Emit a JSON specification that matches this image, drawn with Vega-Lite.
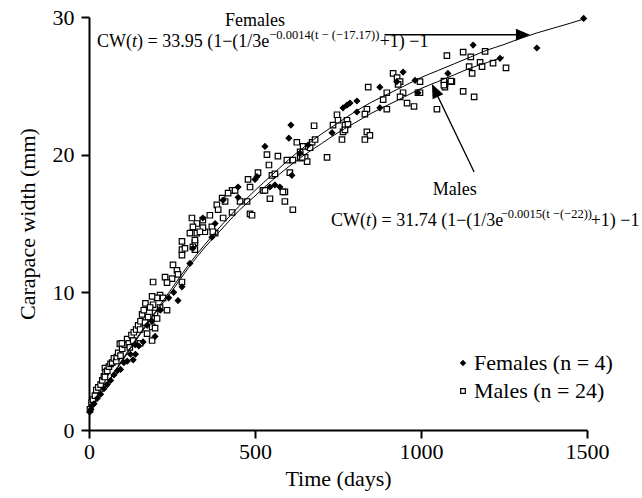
{
  "$schema": "https://vega.github.io/schema/vega-lite/v6.json",
  "width": 498,
  "height": 413,
  "autosize": {"type": "none"},
  "padding": {"left": 89, "top": 17, "right": 55, "bottom": 68},
  "background": "white",
  "datasets": {
    "pts": [
      {"t":3,"cw":1.5,"s":"M"},{"t":8,"cw":2.0,"s":"M"},{"t":12,"cw":2.2,"s":"M"},{"t":18,"cw":2.5,"s":"M"},{"t":22,"cw":2.9,"s":"M"},{"t":28,"cw":3.1,"s":"M"},{"t":35,"cw":3.3,"s":"M"},{"t":40,"cw":3.6,"s":"M"},{"t":45,"cw":3.9,"s":"M"},{"t":48,"cw":4.5,"s":"M"},{"t":50,"cw":4.2,"s":"M"},{"t":48,"cw":3.85,"s":"M"},{"t":55,"cw":4.3,"s":"M"},{"t":60,"cw":4.6,"s":"M"},{"t":65,"cw":4.8,"s":"M"},{"t":70,"cw":4.9,"s":"M"},{"t":75,"cw":5.2,"s":"M"},{"t":82,"cw":5.0,"s":"M"},{"t":84,"cw":5.3,"s":"M"},{"t":88,"cw":5.6,"s":"M"},{"t":93,"cw":6.25,"s":"M"},{"t":95,"cw":5.4,"s":"M"},{"t":100,"cw":5.9,"s":"M"},{"t":108,"cw":6.2,"s":"M"},{"t":115,"cw":6.6,"s":"M"},{"t":120,"cw":6.3,"s":"M"},{"t":128,"cw":6.9,"s":"M"},{"t":135,"cw":7.1,"s":"M"},{"t":142,"cw":7.3,"s":"M"},{"t":148,"cw":7.6,"s":"M"},{"t":155,"cw":7.9,"s":"M"},{"t":160,"cw":8.4,"s":"M"},{"t":165,"cw":8.7,"s":"M"},{"t":170,"cw":9.2,"s":"M"},
      {"t":304,"cw":14.3,"s":"M"},{"t":325,"cw":14.3,"s":"M"},{"t":349,"cw":14.4,"s":"M"},{"t":380,"cw":14.3,"s":"M"},{"t":280,"cw":13.7,"s":"M"},{"t":280,"cw":13.1,"s":"M"},{"t":280,"cw":12.7,"s":"M"},{"t":289,"cw":13.2,"s":"M"},{"t":319,"cw":13.6,"s":"M"},{"t":253,"cw":12.0,"s":"M"},{"t":265,"cw":11.6,"s":"M"},{"t":268,"cw":11.3,"s":"M"},{"t":229,"cw":11.1,"s":"M"},{"t":250,"cw":11.0,"s":"M"},{"t":235,"cw":10.7,"s":"M"},{"t":193,"cw":10.75,"s":"M"},{"t":280,"cw":10.75,"s":"M"},{"t":214,"cw":9.8,"s":"M"},{"t":205,"cw":9.6,"s":"M"},{"t":190,"cw":9.7,"s":"M"},{"t":223,"cw":9.6,"s":"M"},{"t":193,"cw":9.1,"s":"M"},{"t":214,"cw":8.9,"s":"M"},{"t":235,"cw":8.7,"s":"M"},{"t":184,"cw":8.9,"s":"M"},{"t":199,"cw":8.5,"s":"M"},{"t":178,"cw":8.2,"s":"M"},{"t":205,"cw":8.1,"s":"M"},{"t":169,"cw":7.8,"s":"M"},{"t":190,"cw":7.5,"s":"M"},{"t":199,"cw":7.4,"s":"M"},{"t":154,"cw":7.3,"s":"M"},{"t":175,"cw":7.0,"s":"M"},{"t":133,"cw":6.5,"s":"M"},{"t":154,"cw":6.3,"s":"M"},{"t":99,"cw":6.3,"s":"M"},{"t":123,"cw":6.0,"s":"M"},{"t":190,"cw":6.5,"s":"M"},
      {"t":536,"cw":20.0,"s":"M"},{"t":569,"cw":19.9,"s":"M"},{"t":542,"cw":19.25,"s":"M"},{"t":509,"cw":18.7,"s":"M"},{"t":551,"cw":18.5,"s":"M"},{"t":560,"cw":18.6,"s":"M"},{"t":479,"cw":18.2,"s":"M"},{"t":485,"cw":17.65,"s":"M"},{"t":524,"cw":17.4,"s":"M"},{"t":590,"cw":17.3,"s":"M"},{"t":545,"cw":16.8,"s":"M"},{"t":590,"cw":16.6,"s":"M"},{"t":614,"cw":16.0,"s":"M"},{"t":431,"cw":17.4,"s":"M"},{"t":419,"cw":17.2,"s":"M"},{"t":401,"cw":16.85,"s":"M"},{"t":410,"cw":16.6,"s":"M"},{"t":385,"cw":16.35,"s":"M"},{"t":389,"cw":16.0,"s":"M"},{"t":364,"cw":15.6,"s":"M"},{"t":485,"cw":15.7,"s":"M"},{"t":491,"cw":15.6,"s":"M"},{"t":455,"cw":16.6,"s":"M"},{"t":440,"cw":17.4,"s":"M"},{"t":476,"cw":16.6,"s":"M"},{"t":431,"cw":15.8,"s":"M"},{"t":404,"cw":15.4,"s":"M"},{"t":310,"cw":15.4,"s":"M"},{"t":325,"cw":15.0,"s":"M"},{"t":343,"cw":15.25,"s":"M"},{"t":313,"cw":14.75,"s":"M"},{"t":343,"cw":14.7,"s":"M"},{"t":370,"cw":14.75,"s":"M"},{"t":334,"cw":14.4,"s":"M"},{"t":373,"cw":14.4,"s":"M"},{"t":319,"cw":13.8,"s":"M"},{"t":313,"cw":13.3,"s":"M"},{"t":319,"cw":13.1,"s":"M"},{"t":596,"cw":19.6,"s":"M"},{"t":605,"cw":18.7,"s":"M"},{"t":614,"cw":19.6,"s":"M"},{"t":636,"cw":19.75,"s":"M"},{"t":636,"cw":20.2,"s":"M"},{"t":651,"cw":19.8,"s":"M"},{"t":657,"cw":19.5,"s":"M"},{"t":645,"cw":20.6,"s":"M"},{"t":660,"cw":20.6,"s":"M"},{"t":626,"cw":20.9,"s":"M"},{"t":717,"cw":19.8,"s":"M"},{"t":672,"cw":20.9,"s":"M"},{"t":584,"cw":17.3,"s":"M"},{"t":530,"cw":17.4,"s":"M"},
      {"t":841,"cw":24.9,"s":"M"},{"t":897,"cw":24.5,"s":"M"},{"t":946,"cw":24.5,"s":"M"},{"t":991,"cw":24.5,"s":"M"},{"t":937,"cw":24.2,"s":"M"},{"t":886,"cw":24.0,"s":"M"},{"t":958,"cw":23.75,"s":"M"},{"t":979,"cw":23.5,"s":"M"},{"t":897,"cw":23.3,"s":"M"},{"t":837,"cw":23.3,"s":"M"},{"t":831,"cw":22.95,"s":"M"},{"t":747,"cw":22.9,"s":"M"},{"t":750,"cw":22.5,"s":"M"},{"t":735,"cw":22.15,"s":"M"},{"t":777,"cw":22.5,"s":"M"},{"t":771,"cw":22.15,"s":"M"},{"t":780,"cw":22.2,"s":"M"},{"t":765,"cw":21.65,"s":"M"},{"t":771,"cw":21.8,"s":"M"},{"t":678,"cw":22.1,"s":"M"},{"t":1048,"cw":23.3,"s":"M"},{"t":762,"cw":21.1,"s":"M"},{"t":837,"cw":21.65,"s":"M"},{"t":846,"cw":21.4,"s":"M"},{"t":831,"cw":21.1,"s":"M"},{"t":681,"cw":21.1,"s":"M"},{"t":666,"cw":20.5,"s":"M"},{"t":642,"cw":19.8,"s":"M"},{"t":1072,"cw":25.2,"s":"M"},{"t":1072,"cw":24.9,"s":"M"},{"t":997,"cw":24.5,"s":"M"},
      {"t":916,"cw":25.9,"s":"M"},{"t":928,"cw":25.6,"s":"M"},{"t":937,"cw":25.3,"s":"M"},{"t":931,"cw":25.1,"s":"M"},{"t":997,"cw":25.3,"s":"M"},{"t":1093,"cw":25.3,"s":"M"},
      {"t":1078,"cw":27.2,"s":"M"},{"t":1127,"cw":27.45,"s":"M"},{"t":1150,"cw":27.1,"s":"M"},{"t":1193,"cw":27.5,"s":"M"},{"t":1145,"cw":26.4,"s":"M"},{"t":1178,"cw":26.7,"s":"M"},{"t":1184,"cw":26.4,"s":"M"},{"t":1217,"cw":26.65,"s":"M"},{"t":1256,"cw":26.3,"s":"M"},{"t":1154,"cw":25.9,"s":"M"},{"t":1069,"cw":25.35,"s":"M"},{"t":1090,"cw":25.35,"s":"M"},{"t":1069,"cw":25.05,"s":"M"},{"t":1127,"cw":24.6,"s":"M"},{"t":1160,"cw":24.2,"s":"M"},
      {"t":2,"cw":1.3,"s":"F"},{"t":6,"cw":1.5,"s":"F"},{"t":10,"cw":1.8,"s":"F"},{"t":15,"cw":1.9,"s":"F"},{"t":25,"cw":2.3,"s":"F"},{"t":35,"cw":2.6,"s":"F"},{"t":45,"cw":3.0,"s":"F"},{"t":55,"cw":3.3,"s":"F"},{"t":65,"cw":3.6,"s":"F"},{"t":75,"cw":4.0,"s":"F"},{"t":85,"cw":4.3,"s":"F"},{"t":95,"cw":4.4,"s":"F"},{"t":105,"cw":4.9,"s":"F"},{"t":115,"cw":5.0,"s":"F"},{"t":125,"cw":5.5,"s":"F"},{"t":133,"cw":5.1,"s":"F"},{"t":140,"cw":5.5,"s":"F"},{"t":139,"cw":6.2,"s":"F"},{"t":150,"cw":6.1,"s":"F"},{"t":163,"cw":6.4,"s":"F"},{"t":199,"cw":6.8,"s":"F"},{"t":175,"cw":7.6,"s":"F"},{"t":190,"cw":7.9,"s":"F"},{"t":215,"cw":8.7,"s":"F"},{"t":240,"cw":9.6,"s":"F"},{"t":255,"cw":10.0,"s":"F"},
      {"t":370,"cw":14.0,"s":"F"},{"t":304,"cw":12.1,"s":"F"},{"t":280,"cw":10.4,"s":"F"},{"t":268,"cw":9.4,"s":"F"},
      {"t":530,"cw":20.6,"s":"F"},{"t":449,"cw":17.65,"s":"F"},{"t":500,"cw":18.2,"s":"F"},{"t":506,"cw":18.4,"s":"F"},{"t":545,"cw":17.65,"s":"F"},{"t":560,"cw":17.8,"s":"F"},{"t":575,"cw":17.65,"s":"F"},{"t":611,"cw":18.5,"s":"F"},{"t":449,"cw":16.9,"s":"F"},{"t":404,"cw":16.7,"s":"F"},{"t":380,"cw":15.0,"s":"F"},{"t":343,"cw":15.4,"s":"F"},{"t":313,"cw":13.2,"s":"F"},{"t":636,"cw":20.1,"s":"F"},{"t":608,"cw":22.15,"s":"F"},{"t":602,"cw":21.2,"s":"F"},
      {"t":876,"cw":24.9,"s":"F"},{"t":765,"cw":23.4,"s":"F"},{"t":786,"cw":23.75,"s":"F"},{"t":807,"cw":23.9,"s":"F"},{"t":777,"cw":23.6,"s":"F"},{"t":927,"cw":25.3,"s":"F"},{"t":807,"cw":23.1,"s":"F"},{"t":876,"cw":23.4,"s":"F"},{"t":732,"cw":21.6,"s":"F"},{"t":660,"cw":20.7,"s":"F"},{"t":991,"cw":24.5,"s":"F"},{"t":946,"cw":26.0,"s":"F"},{"t":982,"cw":25.4,"s":"F"},{"t":1081,"cw":25.9,"s":"F"},
      {"t":1490,"cw":29.9,"s":"F"},{"t":1349,"cw":27.75,"s":"F"},{"t":1157,"cw":27.96,"s":"F"},{"t":1238,"cw":27.0,"s":"F"}
    ],
    "curves": [
      {"t":0,"cw":1.3,"s":"F"},{"t":50,"cw":3.2,"s":"F"},{"t":100,"cw":5.1,"s":"F"},{"t":150,"cw":6.9,"s":"F"},{"t":200,"cw":8.6,"s":"F"},{"t":250,"cw":10.3,"s":"F"},{"t":300,"cw":12.0,"s":"F"},{"t":350,"cw":13.5,"s":"F"},{"t":400,"cw":14.9,"s":"F"},{"t":450,"cw":16.2,"s":"F"},{"t":500,"cw":17.4,"s":"F"},{"t":550,"cw":18.5,"s":"F"},{"t":600,"cw":19.6,"s":"F"},{"t":650,"cw":20.6,"s":"F"},{"t":700,"cw":21.5,"s":"F"},{"t":750,"cw":22.3,"s":"F"},{"t":800,"cw":23.1,"s":"F"},{"t":850,"cw":23.8,"s":"F"},{"t":900,"cw":24.4,"s":"F"},{"t":950,"cw":25.0,"s":"F"},{"t":1000,"cw":25.6,"s":"F"},{"t":1050,"cw":26.1,"s":"F"},{"t":1100,"cw":26.6,"s":"F"},{"t":1150,"cw":27.1,"s":"F"},{"t":1200,"cw":27.6,"s":"F"},{"t":1250,"cw":28.0,"s":"F"},{"t":1300,"cw":28.45,"s":"F"},{"t":1350,"cw":28.85,"s":"F"},{"t":1400,"cw":29.2,"s":"F"},{"t":1450,"cw":29.55,"s":"F"},{"t":1490,"cw":29.85,"s":"F"},
      {"t":0,"cw":1.3,"s":"M"},{"t":50,"cw":3.2,"s":"M"},{"t":100,"cw":5.0,"s":"M"},{"t":150,"cw":6.8,"s":"M"},{"t":200,"cw":8.5,"s":"M"},{"t":250,"cw":10.1,"s":"M"},{"t":300,"cw":11.8,"s":"M"},{"t":350,"cw":13.3,"s":"M"},{"t":400,"cw":14.6,"s":"M"},{"t":450,"cw":15.9,"s":"M"},{"t":500,"cw":17.0,"s":"M"},{"t":550,"cw":18.1,"s":"M"},{"t":600,"cw":19.1,"s":"M"},{"t":650,"cw":20.0,"s":"M"},{"t":700,"cw":20.8,"s":"M"},{"t":750,"cw":21.6,"s":"M"},{"t":800,"cw":22.3,"s":"M"},{"t":850,"cw":23.0,"s":"M"},{"t":900,"cw":23.6,"s":"M"},{"t":950,"cw":24.2,"s":"M"},{"t":1000,"cw":24.8,"s":"M"},{"t":1050,"cw":25.3,"s":"M"},{"t":1100,"cw":25.8,"s":"M"},{"t":1150,"cw":26.3,"s":"M"},{"t":1200,"cw":26.7,"s":"M"},{"t":1250,"cw":27.1,"s":"M"}
    ],
    "txtN": [
      {"t":24.1,"cw":27.82,"txt":"CW("},
      {"t":144.6,"cw":27.82,"txt":") = 33.95 (1−(1/3e"},
      {"t":875.5,"cw":27.82,"txt":"+1) −1"},
      {"t":728.9,"cw":14.82,"txt":"CW("},
      {"t":849.4,"cw":14.82,"txt":") = 31.74 (1−(1/3e"},
      {"t":1511,"cw":14.82,"txt":"+1) −1"}
    ],
    "txtI": [
      {"t":129.5,"cw":27.82,"txt":"t"},
      {"t":834.3,"cw":14.82,"txt":"t"}
    ],
    "txtS": [
      {"t":543.1,"cw":28.4,"txt":"−0.0014(t − (−17.17))"},
      {"t":1240,"cw":15.4,"txt":"−0.0015(t −(−22))"}
    ],
    "txtC": [
      {"t":500,"cw":29.38,"txt":"Females"},
      {"t":1102,"cw":17.07,"txt":"Males"}
    ],
    "arrows": [
      {"t":890,"cw":28.71,"t2":1307,"cw2":28.71},
      {"t":1042,"cw":24.67,"t2":1160,"cw2":18.74}
    ],
    "headF": [{"t":1307,"cw":28.71}],
    "headM": [{"t":1042,"cw":24.67}]
  },
  "layer": [
    {
      "data": {"name": "pts"},
      "mark": {"type": "point", "filled": true, "strokeWidth": 1.2, "opacity": 1},
      "encoding": {
        "x": {"field": "t", "type": "quantitative", "scale": {"domain": [0, 1500], "nice": false, "zero": false}, "axis": {"title": "Time (days)", "values": [0, 500, 1000, 1500], "format": "d", "labelFlush": false, "labelOverlap": false, "labelPadding": 3, "titlePadding": 6}},
        "y": {"field": "cw", "type": "quantitative", "scale": {"domain": [0, 30], "nice": false, "zero": false}, "axis": {"title": "Carapace width (mm)", "values": [0, 10, 20, 30], "format": "d", "labelFlush": false, "labelOverlap": false, "labelPadding": 7, "titlePadding": 13}},
        "shape": {"field": "s", "type": "nominal", "scale": {"domain": ["F", "M"], "range": ["diamond", "square"]}, "legend": {"orient": "none", "legendX": 363, "legendY": 335, "title": null, "labelExpr": "datum.value == 'F' ? 'Females (n = 4)' : 'Males (n = 24)'"}},
        "fill": {"field": "s", "type": "nominal", "scale": {"domain": ["F", "M"], "range": ["black", "white"]}, "legend": {"orient": "none", "legendX": 363, "legendY": 335, "title": null, "labelExpr": "datum.value == 'F' ? 'Females (n = 4)' : 'Males (n = 24)'"}},
        "stroke": {"field": "s", "type": "nominal", "scale": {"domain": ["F", "M"], "range": ["black", "black"]}, "legend": {"orient": "none", "legendX": 363, "legendY": 335, "title": null, "labelExpr": "datum.value == 'F' ? 'Females (n = 4)' : 'Males (n = 24)'"}}
      }
    },
    {
      "data": {"name": "curves"},
      "mark": {"type": "line", "stroke": "black", "strokeWidth": 1, "interpolate": "monotone"},
      "encoding": {"x": {"field": "t", "type": "quantitative"}, "y": {"field": "cw", "type": "quantitative"}, "detail": {"field": "s", "type": "nominal"}}
    },
    {
      "data": {"name": "arrows"},
      "mark": {"type": "rule", "stroke": "black", "strokeWidth": 1.3},
      "encoding": {"x": {"field": "t", "type": "quantitative"}, "y": {"field": "cw", "type": "quantitative"}, "x2": {"field": "t2"}, "y2": {"field": "cw2"}}
    },
    {
      "data": {"name": "headF"},
      "mark": {"type": "point", "shape": "M1,0L-1,-0.85L-1,0.85Z", "filled": true, "fill": "black", "size": 196, "opacity": 1},
      "encoding": {"x": {"field": "t", "type": "quantitative"}, "y": {"field": "cw", "type": "quantitative"}}
    },
    {
      "data": {"name": "headM"},
      "mark": {"type": "point", "shape": "M1,0L-1,-0.85L-1,0.85Z", "filled": true, "fill": "black", "size": 196, "angle": 244.6, "opacity": 1},
      "encoding": {"x": {"field": "t", "type": "quantitative"}, "y": {"field": "cw", "type": "quantitative"}}
    },
    {
      "data": {"name": "txtN"},
      "mark": {"type": "text", "align": "left", "baseline": "alphabetic", "fontSize": 18, "color": "black"},
      "encoding": {"x": {"field": "t", "type": "quantitative"}, "y": {"field": "cw", "type": "quantitative"}, "text": {"field": "txt"}}
    },
    {
      "data": {"name": "txtI"},
      "mark": {"type": "text", "align": "left", "baseline": "alphabetic", "fontSize": 18, "fontStyle": "italic", "color": "black"},
      "encoding": {"x": {"field": "t", "type": "quantitative"}, "y": {"field": "cw", "type": "quantitative"}, "text": {"field": "txt"}}
    },
    {
      "data": {"name": "txtS"},
      "mark": {"type": "text", "align": "left", "baseline": "alphabetic", "fontSize": 12.5, "color": "black"},
      "encoding": {"x": {"field": "t", "type": "quantitative"}, "y": {"field": "cw", "type": "quantitative"}, "text": {"field": "txt"}}
    },
    {
      "data": {"name": "txtC"},
      "mark": {"type": "text", "align": "center", "baseline": "alphabetic", "fontSize": 18, "color": "black"},
      "encoding": {"x": {"field": "t", "type": "quantitative"}, "y": {"field": "cw", "type": "quantitative"}, "text": {"field": "txt"}}
    }
  ],
  "config": {
    "font": "Liberation Serif",
    "view": {"stroke": null},
    "point": {"size": 30},
    "axis": {"grid": false, "domainColor": "black", "domainWidth": 2, "tickColor": "black", "tickWidth": 2, "tickSize": 8, "labelColor": "black", "labelFontSize": 22, "labelFont": "Liberation Serif", "titleColor": "black", "titleFontSize": 22, "titleFont": "Liberation Serif", "titleFontWeight": "normal"},
    "legend": {"labelFontSize": 22, "labelFont": "Liberation Serif", "labelColor": "black", "symbolSize": 22, "symbolStrokeColor": "black", "symbolStrokeWidth": 1.2, "rowPadding": 6, "labelOffset": 0}
  }
}
